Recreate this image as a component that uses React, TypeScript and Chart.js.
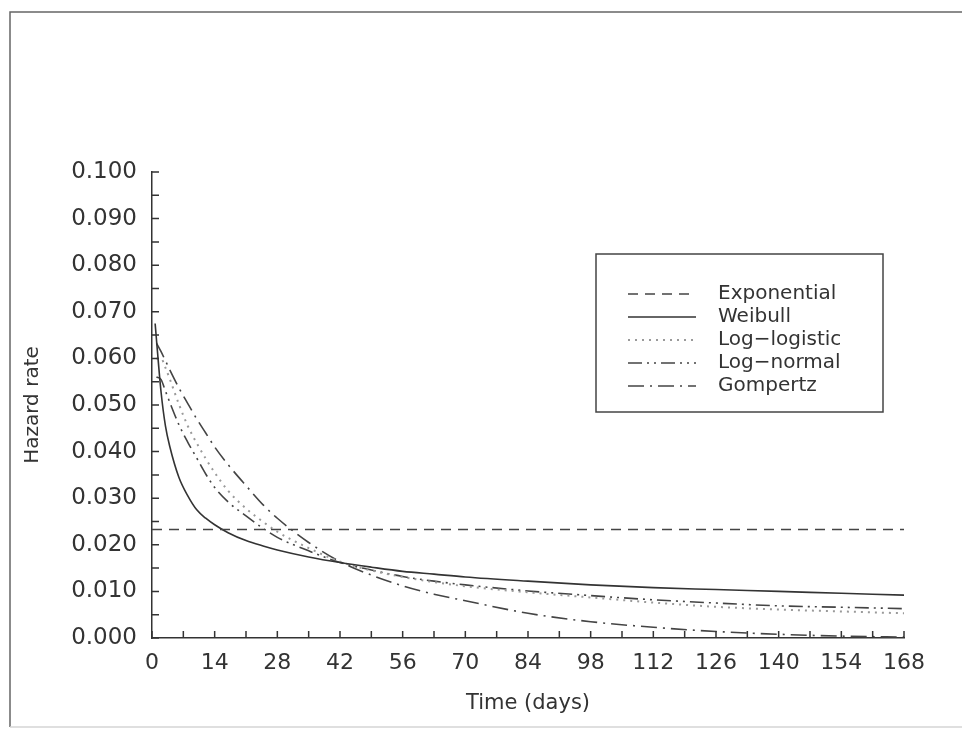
import React, { useEffect, useRef } from "react";
import { Chart, registerables } from "chart.js";

Chart.register(...registerables);

// ---- data ----
const days = [0.7, 1, 2, 3, 4, 6, 8, 10, 12, 14, 17, 21, 25, 28, 35, 42, 49, 56, 63, 70, 84, 98, 112, 126, 140, 154, 168];
const expDays = [0, 168];
const exponential = [0.0233, 0.0233];
const weibull = [0.0675, 0.064, 0.053, 0.0455, 0.041, 0.0345, 0.0305, 0.0275, 0.0257, 0.0243, 0.0226, 0.0209, 0.0197, 0.0189, 0.0174, 0.0162, 0.0152, 0.0143, 0.0137, 0.0131, 0.0122, 0.0114, 0.0108, 0.0104, 0.01, 0.0096, 0.0092];
const logLogistic = [null, 0.06, 0.06, 0.058, 0.0555, 0.0502, 0.0455, 0.0418, 0.0385, 0.0355, 0.0316, 0.0278, 0.0248, 0.0228, 0.0193, 0.0164, 0.0145, 0.0131, 0.012, 0.0111, 0.0098, 0.0087, 0.0076, 0.0067, 0.0061, 0.0057, 0.0053];
const logNormal = [null, 0.056, 0.0555, 0.053, 0.0505, 0.0458, 0.042, 0.0386, 0.0352, 0.0323, 0.0292, 0.0262, 0.0234, 0.0216, 0.0187, 0.0162, 0.0146, 0.0132, 0.0122, 0.0114, 0.0101, 0.0091, 0.0082, 0.0075, 0.0069, 0.0066, 0.0063];
const gompertz = [null, 0.0633, 0.0615, 0.0595, 0.0575, 0.0537, 0.0503, 0.047, 0.044, 0.041, 0.0372, 0.0327, 0.0284, 0.0257, 0.0205, 0.0164, 0.0135, 0.0112, 0.0094, 0.008, 0.0053, 0.0035, 0.0023, 0.0014, 0.0008, 0.0004, 0.0002];
const seriesLabels = ["Exponential", "Weibull", "Log\u2212logistic", "Log\u2212normal", "Gompertz"];
const xTickStep = 14;
const yTickStep = 0.01;

const FONT = "'DejaVu Sans', sans-serif";
const INK = "#333333";

function pts(xs: number[], ys: (number | null)[]) {
  return xs.map((x, i) => ({ x, y: ys[i] })).filter((p) => p.y !== null);
}

const frameAndTicks = {
  id: "frameAndTicks",
  beforeDraw(chart: any) {
    const ctx = chart.ctx;
    ctx.save();
    ctx.fillStyle = "#ffffff";
    ctx.fillRect(0, 0, chart.width, chart.height);
    ctx.strokeStyle = "#666666";
    ctx.lineWidth = 1.5;
    ctx.beginPath();
    ctx.moveTo(2, chart.height - 4);
    ctx.lineTo(2, 4);
    ctx.lineTo(chart.width, 4);
    ctx.stroke();
    ctx.strokeStyle = "#d4d4d4";
    ctx.beginPath();
    ctx.moveTo(2, chart.height - 4);
    ctx.lineTo(chart.width, chart.height - 4);
    ctx.stroke();
    ctx.restore();
  },
  afterDraw(chart: any) {
    const ctx = chart.ctx;
    const xs = chart.scales.x;
    const ys = chart.scales.y;
    const area = chart.chartArea;
    ctx.save();
    ctx.strokeStyle = INK;
    ctx.lineWidth = 1.5;
    ctx.beginPath();
    for (let d = 0; d <= 168; d += 7) {
      const px = xs.getPixelForValue(d);
      ctx.moveTo(px, area.bottom);
      ctx.lineTo(px, area.bottom - 7);
    }
    for (let i = 0; i <= 20; i++) {
      const py = ys.getPixelForValue(i * 0.005);
      ctx.moveTo(area.left, py);
      ctx.lineTo(area.left + 7, py);
    }
    ctx.stroke();

    // legend
    const L = 588, T = 246, R = 875, B = 404;
    ctx.strokeStyle = "#444444";
    ctx.lineWidth = 1.5;
    ctx.strokeRect(L, T, R - L, B - T);
    ctx.font = "20px " + FONT;
    ctx.textBaseline = "middle";
    ctx.textAlign = "left";
    chart.data.datasets.forEach((ds: any, i: number) => {
      const y = 286 + i * 23;
      ctx.save();
      ctx.strokeStyle = ds.borderColor;
      ctx.lineWidth = ds.borderWidth;
      ctx.setLineDash(ds.borderDash || []);
      ctx.beginPath();
      ctx.moveTo(620, y);
      ctx.lineTo(688, y);
      ctx.stroke();
      ctx.restore();
      ctx.fillStyle = INK;
      ctx.fillText(ds.label, 710, y);
    });
    ctx.restore();
  },
};

export default function App() {
  const ref = useRef<HTMLCanvasElement | null>(null);
  useEffect(() => {
    if (!ref.current) return;
    const common = { pointRadius: 0, fill: false, tension: 0.4, cubicInterpolationMode: "monotone" as const };
    const chart = new Chart(ref.current, {
      type: "line",
      data: {
        datasets: [
          { ...common, label: seriesLabels[0], data: pts(expDays, exponential), borderColor: "#444444", borderWidth: 1.5, borderDash: [10, 7] },
          { ...common, label: seriesLabels[1], data: pts(days, weibull), borderColor: "#333333", borderWidth: 1.6, borderDash: [] },
          { ...common, label: seriesLabels[2], data: pts(days, logLogistic), borderColor: "#9a9a9a", borderWidth: 2, borderDash: [2, 5] },
          { ...common, label: seriesLabels[3], data: pts(days, logNormal), borderColor: "#444444", borderWidth: 1.6, borderDash: [14, 5, 2, 5, 2, 5] },
          { ...common, label: seriesLabels[4], data: pts(days, gompertz), borderColor: "#444444", borderWidth: 1.6, borderDash: [16, 6, 2, 6] },
        ],
      },
      options: {
        animation: false,
        responsive: false,
        devicePixelRatio: 1,
        layout: { padding: { left: 0, right: 58, top: 164, bottom: 0 } },
        plugins: { legend: { display: false }, tooltip: { enabled: false } },
        scales: {
          x: {
            type: "linear",
            min: 0,
            max: 168,
            afterFit: (s: any) => { s.height = 93; },
            grid: { display: false, drawTicks: false },
            border: { display: true, color: INK, width: 1.5 },
            ticks: { stepSize: xTickStep, padding: 12, color: INK, font: { family: FONT, size: 22 }, maxRotation: 0, autoSkip: false },
            title: { display: true, text: "Time (days)", color: INK, font: { family: FONT, size: 21 }, padding: { top: 0, bottom: 15 } },
          },
          y: {
            type: "linear",
            min: 0,
            max: 0.1,
            afterFit: (s: any) => { s.width = 144; },
            grid: { display: false, drawTicks: false },
            border: { display: true, color: INK, width: 1.5 },
            ticks: { stepSize: yTickStep, padding: 15, color: INK, font: { family: FONT, size: 23 }, callback: (v: any) => Number(v).toFixed(3) },
            title: { display: true, text: "Hazard rate", color: INK, font: { family: FONT, size: 20 }, padding: { top: 13, bottom: 0 } },
          },
        },
      },
      plugins: [frameAndTicks],
    });
    return () => chart.destroy();
  }, []);
  return (
    <div style={{ width: 954, height: 723 }}>
      <canvas ref={ref} width={954} height={723} style={{ display: "block" }} />
    </div>
  );
}
